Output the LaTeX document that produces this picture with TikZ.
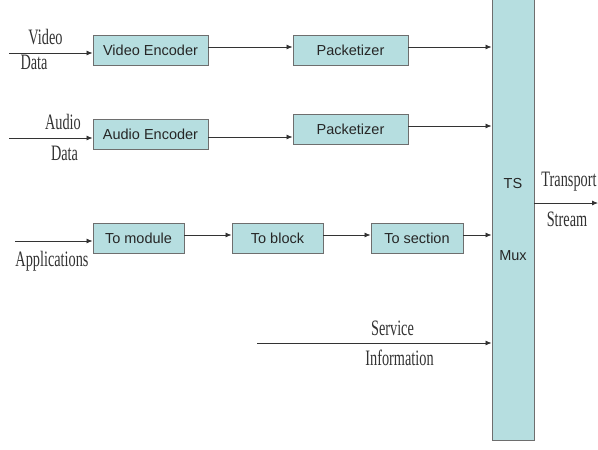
\documentclass[tikz,border=0pt]{standalone}
\usepackage{fontspec}
\setmainfont{Liberation Sans}
\newfontfamily\lblfont[FakeStretch=0.65]{Liberation Serif}
\usetikzlibrary{arrows.meta}
\definecolor{boxfill}{RGB}{182,222,224}
\definecolor{boxline}{RGB}{110,110,110}
\definecolor{lbl}{RGB}{50,50,50}
\tikzset{
  blk/.style={draw=boxline, fill=boxfill, line width=0.9pt, inner sep=0pt,
    font=\fontsize{14.5}{16}\selectfont, text=black!85},
  arr/.style={draw=black!80, line width=0.8pt, -{Latex[length=6pt,width=5pt]}},
  lab/.style={inner sep=0pt, font=\lblfont\fontsize{22}{24}\selectfont, text=lbl}
}
\begin{document}
\begin{tikzpicture}[x=1pt,y=-1pt]
\useasboundingbox (0,0) rectangle (598,450);
% boxes
\node[blk, minimum width=115pt, minimum height=30pt] (ve) at (150.5,50) {Video Encoder};
\node[blk, minimum width=115pt, minimum height=30pt] (ae) at (150.5,134.5) {Audio Encoder};
\node[blk, minimum width=115pt, minimum height=30pt] (p1) at (350.5,50) {Packetizer};
\node[blk, minimum width=115pt, minimum height=30pt] (p2) at (350.5,129) {Packetizer};
\node[blk, minimum width=91pt, minimum height=30pt] (tm) at (138.5,238) {To module};
\node[blk, minimum width=91pt, minimum height=30pt] (tb) at (277.5,238) {To block};
\node[blk, minimum width=92pt, minimum height=30pt] (tsec) at (417,238) {To section};
\node[blk, minimum width=42pt, minimum height=445pt] (ts) at (513,217.5) {};
\node[inner sep=0pt, font=\fontsize{14.5}{16}\selectfont, text=black!85] (tsl) at (513,184) {TS};
\node[inner sep=0pt, font=\fontsize{14.5}{16}\selectfont, text=black!85] (muxl) at (513,256) {Mux};
% free ends
\coordinate (vin) at (9,53);
\coordinate (ain) at (9,138);
\coordinate (apin) at (15,241);
\coordinate (sin) at (257,343);
\coordinate (out) at (598,203);
% connectors
\draw[arr] (vin) -- (vin -| ve.west);
\draw[arr] ([yshift=3pt]ve.east) -- ([yshift=3pt]p1.west);
\draw[arr] ([yshift=3pt]p1.east) -- ([yshift=3pt]p1.east -| ts.west);
\draw[arr] (ain) -- (ain -| ae.west);
\draw[arr] ([yshift=-2.5pt]ae.east) -- ([yshift=-2.5pt]ae.east -| p2.west);
\draw[arr] ([yshift=3pt]p2.east) -- ([yshift=3pt]p2.east -| ts.west);
\draw[arr] (apin) -- (apin -| tm.west);
\draw[arr] ([yshift=3pt]tm.east) -- ([yshift=3pt]tb.west);
\draw[arr] ([yshift=3pt]tb.east) -- ([yshift=3pt]tsec.west);
\draw[arr] ([yshift=3pt]tsec.east) -- ([yshift=3pt]tsec.east -| ts.west);
\draw[arr] (sin) -- (sin -| ts.west);
\draw[arr] (out -| ts.east) -- (out);
% labels
\node[lab] (l1) at (45.5,37) {Video};
\node[lab] (l2) at (34,62) {Data};
\node[lab] (l3) at (63,122) {Audio};
\node[lab] (l4) at (64.5,153) {Data};
\node[lab] (l5) at (52,261) {Applications};
\node[lab] (l6) at (392.5,328) {Service};
\node[lab] (l7) at (399.5,358) {Information};
\node[lab] (l8) at (569,182) {Transport};
\node[lab] (l9) at (567,219) {Stream};
\end{tikzpicture}
\end{document}
